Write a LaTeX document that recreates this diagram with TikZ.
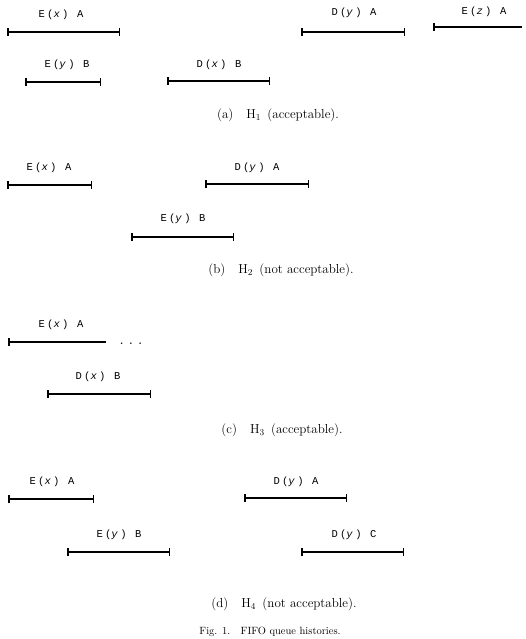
\documentclass[tikz,border=0pt]{standalone}
\usepackage{fontspec}
\newfontfamily\labfont[LetterSpace=22]{Liberation Mono}
\usetikzlibrary{arrows.meta}
\begin{document}
\begin{tikzpicture}[x=1pt,y=-1pt,
  ival/.style={line width=1.5pt,{Bar[width=8pt]}-{Bar[width=8pt]}},
  openr/.style={line width=1.5pt,{Bar[width=8pt]}-},
  lab/.style={font=\labfont\fontsize{10.5}{12}\selectfont,inner sep=0pt},
  capt/.style={font=\fontsize{13}{15}\selectfont,inner sep=0pt},
  figcapt/.style={font=\fontsize{10.5}{12}\selectfont,inner sep=0pt}]
\useasboundingbox (0,0) rectangle (526,639);
% (a)
\node[lab] (a1) at (61,15) {E(\textit{x}) A};
\coordinate (a1l) at (7,32); \coordinate (a1r) at (120,32);
\draw[ival] (a1l) -- (a1r);
\node[lab] (a2) at (67,65) {E(\textit{y}) B};
\coordinate (a2l) at (25,82); \coordinate (a2r) at (101,82);
\draw[ival] (a2l) -- (a2r);
\node[lab] (a3) at (219,65) {D(\textit{x}) B};
\coordinate (a3l) at (167,81); \coordinate (a3r) at (270,81);
\draw[ival] (a3l) -- (a3r);
\node[lab] (a4) at (354,13) {D(\textit{y}) A};
\coordinate (a4l) at (301,32); \coordinate (a4r) at (405,32);
\draw[ival] (a4l) -- (a4r);
\node[lab] (a5) at (484,12) {E(\textit{z}) A};
\coordinate (a5l) at (433,27); \coordinate (a5r) at (522,27);
\draw[openr] (a5l) -- (a5r);
\node[capt] (capa) at (278,115) {(a)\quad H$_1$\ \,(acceptable).};
% (b)
\node[lab] (b1) at (49,168) {E(\textit{x}) A};
\coordinate (b1l) at (7,185); \coordinate (b1r) at (92,185);
\draw[ival] (b1l) -- (b1r);
\node[lab] (b2) at (257,168) {D(\textit{y}) A};
\coordinate (b2l) at (205,184); \coordinate (b2r) at (309,184);
\draw[ival] (b2l) -- (b2r);
\node[lab] (b3) at (183,219) {E(\textit{y}) B};
\coordinate (b3l) at (131,237); \coordinate (b3r) at (234,237);
\draw[ival] (b3l) -- (b3r);
\node[capt] (capb) at (281,270) {(b)\quad H$_2$\ \,(not acceptable).};
% (c)
\node[lab] (c1) at (61,325) {E(\textit{x}) A};
\coordinate (c1l) at (8,342); \coordinate (c1r) at (106,342);
\draw[openr] (c1l) -- (c1r);
\node[inner sep=0pt,font=\bfseries] (cdots) at (131,344) {.\hspace{6pt}.\hspace{6pt}.};
\node[lab] (c2) at (98,377) {D(\textit{x}) B};
\coordinate (c2l) at (47,394); \coordinate (c2r) at (151,394);
\draw[ival] (c2l) -- (c2r);
\node[capt] (capc) at (282,430) {(c)\quad H$_3$\ \,(acceptable).};
% (d)
\node[lab] (d1) at (52,482) {E(\textit{x}) A};
\coordinate (d1l) at (8,499); \coordinate (d1r) at (94,499);
\draw[ival] (d1l) -- (d1r);
\node[lab] (d2) at (296,482) {D(\textit{y}) A};
\coordinate (d2l) at (244,498); \coordinate (d2r) at (347,498);
\draw[ival] (d2l) -- (d2r);
\node[lab] (d3) at (119,535) {E(\textit{y}) B};
\coordinate (d3l) at (67,552); \coordinate (d3r) at (170,552);
\draw[ival] (d3l) -- (d3r);
\node[lab] (d4) at (354,535) {D(\textit{y}) C};
\coordinate (d4l) at (301,552); \coordinate (d4r) at (404,552);
\draw[ival] (d4l) -- (d4r);
\node[capt] (capd) at (284,604) {(d)\quad H$_4$\ \,(not acceptable).};
\node[figcapt] (fig) at (270,632) {Fig. 1.\quad FIFO queue histories.};
\end{tikzpicture}
\end{document}
